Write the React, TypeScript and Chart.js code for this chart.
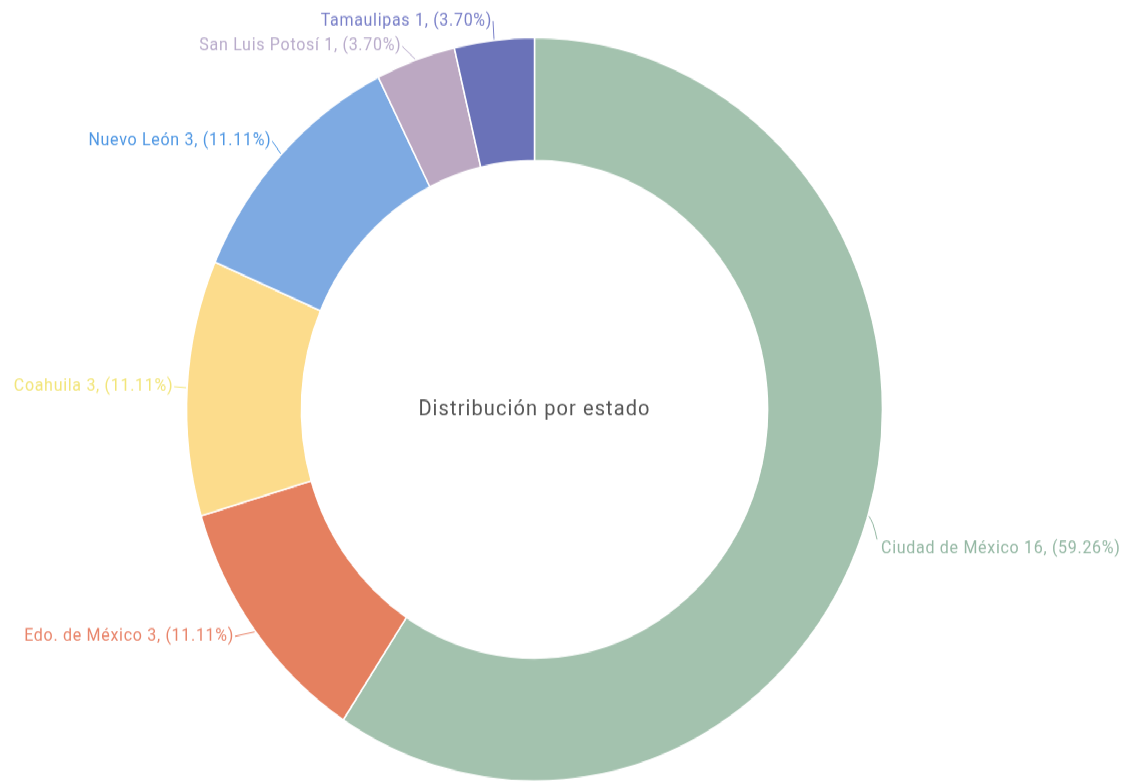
import React, { useEffect, useRef } from "react";
import { Chart, registerables } from "chart.js";

Chart.register(...registerables);

const categories = [
  "Ciudad de México",
  "Edo. de México",
  "Coahuila",
  "Nuevo León",
  "San Luis Potosí",
  "Tamaulipas",
];
const counts = [16, 3, 3, 3, 1, 1];
const sliceColors = ["#a3c2ae", "#e5805f", "#fcdc8c", "#7eaae2", "#bca8c2", "#6a72b8"];
const labelColors = ["#95b8a4", "#e8846a", "#f2e57a", "#4f97e3", "#b9accb", "#7a80c8"];
const centerTitle = "Distribución por estado";

const SCALE_Y = 1.068;
const CANVAS_H = 732;

const labelPlugin = {
  id: "outerLabels",
  afterDraw(chart: any) {
    const ctx = chart.ctx;
    const meta = chart.getDatasetMeta(0);
    const total = counts.reduce((a, b) => a + b, 0);
    // label layout nudges (canvas px) to mimic the reference's label placement
    const nudgeY = [26, -6, 0, 0, 4, 0];
    const nudgeX = [-6, -5, 6, 5, -6, 2];
    ctx.save();
    meta.data.forEach((arc: any, i: number) => {
      const { x, y, startAngle, endAngle, outerRadius } = arc.getProps(
        ["x", "y", "startAngle", "endAngle", "outerRadius"],
        true
      );
      const mid = (startAngle + endAngle) / 2;
      const cos = Math.cos(mid);
      const sin = Math.sin(mid);
      const right = cos >= 0;
      const p0x = x + cos * (outerRadius + 1);
      const p0y = y + sin * (outerRadius + 1);
      const tx = x + cos * (outerRadius + 18) + nudgeX[i];
      const ty = y + sin * (outerRadius + 18) + nudgeY[i];
      ctx.strokeStyle = labelColors[i];
      ctx.lineWidth = 1;
      ctx.beginPath();
      ctx.moveTo(p0x, p0y);
      if (nudgeY[i] > 10) {
        ctx.quadraticCurveTo(tx - 6, p0y + 4, tx - 2, ty - 9);
      } else {
        const ex = right ? tx : tx - 1;
        ctx.lineTo(ex, ty);
      }
      ctx.stroke();
      const pct = ((counts[i] / total) * 100).toFixed(2);
      const text = `${categories[i]} ${counts[i]}, (${pct}%)`;
      ctx.font = "16px Roboto";
      (ctx as any).letterSpacing = "0.7px";
      ctx.fillStyle = labelColors[i];
      ctx.textAlign = right ? "left" : "right";
      ctx.textBaseline = "middle";
      ctx.fillText(text, tx + (right ? 2 : -2), ty);
    });
    const a0 = meta.data[0];
    ctx.font = "20px Roboto";
    (ctx as any).letterSpacing = "1.1px";
    ctx.fillStyle = "#555555";
    ctx.textAlign = "center";
    ctx.textBaseline = "middle";
    ctx.fillText(centerTitle, a0.x, a0.y + 1);
    ctx.restore();
  },
};

export default function App() {
  const canvasRef = useRef<HTMLCanvasElement | null>(null);

  useEffect(() => {
    if (!canvasRef.current) return;
    const chart = new Chart(canvasRef.current, {
      type: "doughnut",
      data: {
        labels: categories,
        datasets: [
          {
            data: counts,
            backgroundColor: sliceColors,
            borderColor: "#ffffff",
            borderWidth: 1.5,
            hoverOffset: 0,
          },
        ],
      },
      options: {
        animation: false,
        responsive: true,
        maintainAspectRatio: false,
        cutout: "67%",
        layout: { padding: { top: 34.6, bottom: 0, left: 0, right: 64 } },
        plugins: {
          legend: { display: false },
          tooltip: { enabled: false },
        },
      },
      plugins: [labelPlugin],
    });
    return () => chart.destroy();
  }, []);

  return (
    <div
      style={{
        position: "absolute",
        left: 0,
        top: 0,
        width: 1133,
        height: CANVAS_H,
        transform: `scaleY(${SCALE_Y})`,
        transformOrigin: "top left",
        background: "#ffffff",
      }}
    >
      <canvas ref={canvasRef} />
    </div>
  );
}
